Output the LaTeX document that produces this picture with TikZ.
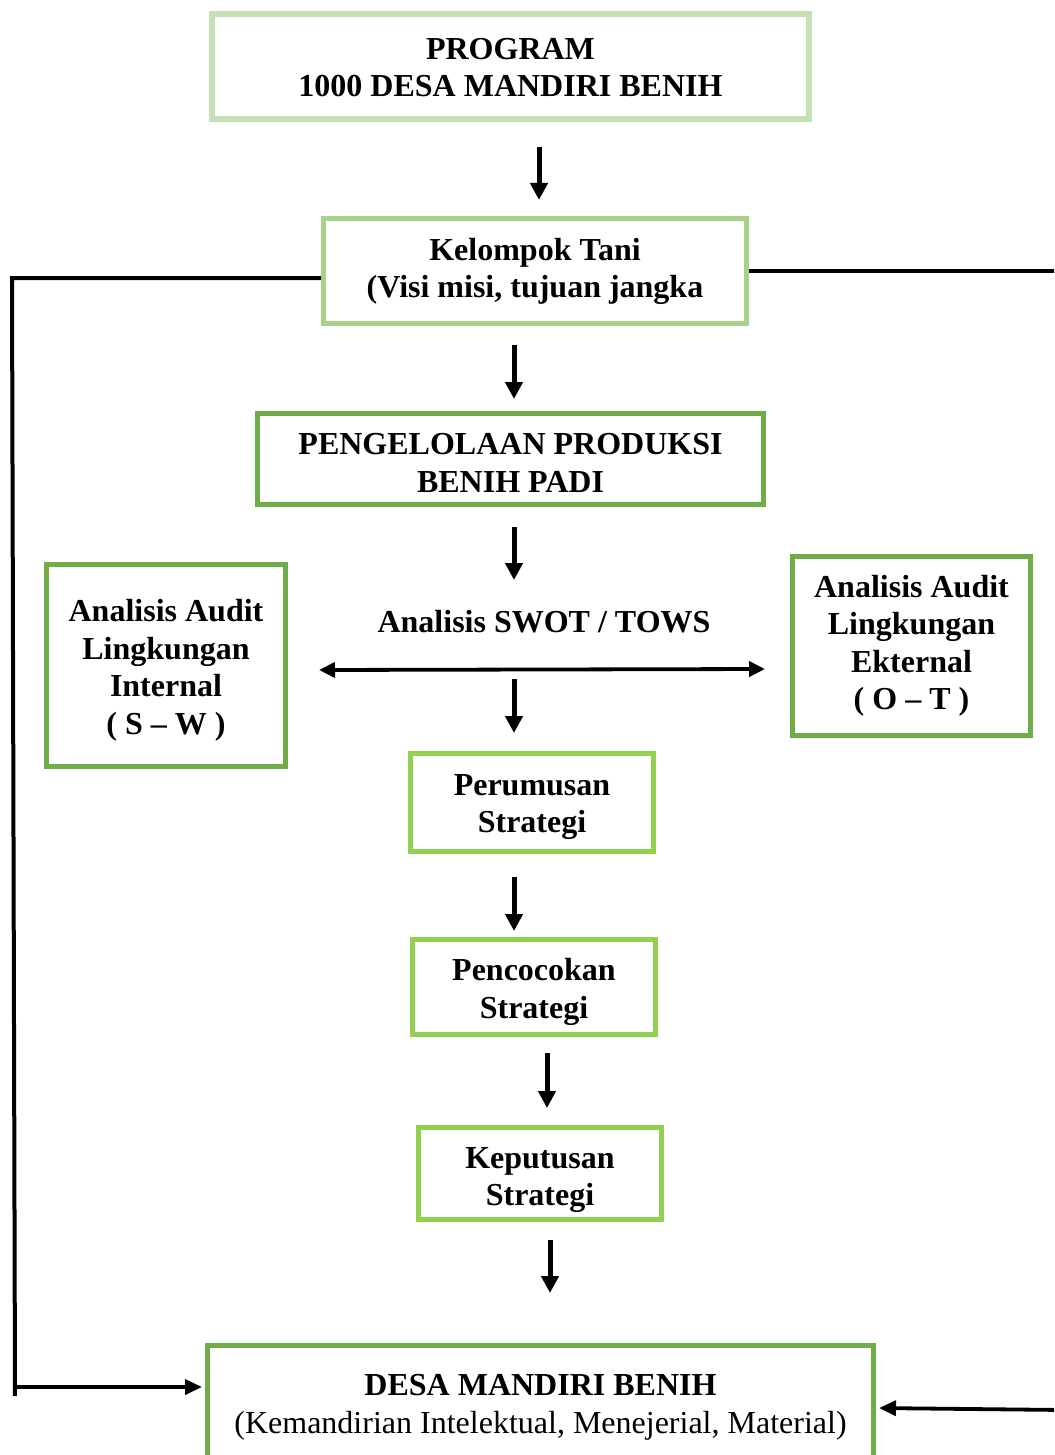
\documentclass[tikz,border=0pt]{standalone}
\usepackage{fontspec}
\setmainfont{Liberation Serif}
\usetikzlibrary{arrows.meta}
\definecolor{gA}{HTML}{C5E0B4}
\definecolor{gB}{HTML}{A9D18E}
\definecolor{gC}{HTML}{70AD47}
\definecolor{gD}{HTML}{92D050}
\newcommand\boxtext[2]{\raisebox{-#1}[\height][\depth]{\begin{tabular}{@{}c@{}}#2\end{tabular}}}
\tikzset{
  box/.style={draw, line width=5pt, fill=white, align=center, inner sep=0pt,
    font=\fontsize{32}{37.5}\selectfont\bfseries},
  arr/.style={line width=5pt, -{Triangle[length=17pt,width=17pt]}},
  conn/.style={line width=4pt},
  connarr/.style={line width=3.8pt, -{Triangle[length=17pt,width=15pt]}},
  dbl/.style={line width=3.8pt, {Triangle[length=16pt,width=15pt]}-{Triangle[length=16pt,width=15pt]}},
}
\begin{document}
\begin{tikzpicture}[x=1pt,y=-1pt]
\useasboundingbox (0,0) rectangle (1054,1455);
\clip (0,0) rectangle (1054,1455);
\fill[white] (0,0) rectangle (1054,1455);

\node[box, draw=gA, line width=6pt, minimum width=597pt, minimum height=105pt] (prog) at (510.5,66.5)
  {\boxtext{4pt}{PROGRAM\\1000 DESA MANDIRI BENIH}};
\node[box, draw=gB, minimum width=423pt, minimum height=105pt] (kt) at (535,271)
  {\boxtext{0.5pt}{Kelompok Tani\\(Visi misi, tujuan jangka}};
\node[box, draw=gC, minimum width=506pt, minimum height=91pt] (peng) at (510.5,459)
  {\boxtext{7pt}{PENGELOLAAN PRODUKSI\\BENIH PADI}};
\node[box, draw=gC, minimum width=239pt, minimum height=202pt] (ain) at (166,665.5)
  {\boxtext{5pt}{Analisis Audit\\Lingkungan\\Internal\\( S -- W )}};
\node[box, draw=gC, minimum width=238pt, minimum height=179pt] (aex) at (911.5,646)
  {\boxtext{0pt}{Analisis Audit\\Lingkungan\\Ekternal\\( O -- T )}};
\node[font=\fontsize{32}{37.5}\selectfont\bfseries, inner sep=0pt] (swot) at (544,622) {Analisis SWOT / TOWS};
\node[box, draw=gD, minimum width=243pt, minimum height=98pt] (rum) at (532,802.5)
  {\boxtext{4pt}{Perumusan\\Strategi}};
\node[box, draw=gD, minimum width=243pt, minimum height=95pt] (coc) at (534,987)
  {\boxtext{5pt}{Pencocokan\\Strategi}};
\node[box, draw=gD, minimum width=243pt, minimum height=92pt] (kep) at (540,1173.5)
  {\boxtext{6pt}{Keputusan\\Strategi}};
\node[box, draw=gC, minimum width=666pt, minimum height=118pt] (desa) at (540.5,1404)
  {\boxtext{3pt}{DESA MANDIRI BENIH\\{\mdseries (Kemandirian Intelektual, Menejerial, Material)}}};

% vertical flow arrows
\coordinate (a1s) at (539,147); \coordinate (a1e) at (539,200);
\coordinate (a2s) at (514,345); \coordinate (a2e) at (514,399);
\coordinate (a3s) at (514,527); \coordinate (a3e) at (514,580);
\coordinate (a4s) at (514,679); \coordinate (a4e) at (514,733);
\coordinate (a5s) at (514,877); \coordinate (a5e) at (514,931);
\coordinate (a6s) at (547,1053); \coordinate (a6e) at (547,1108);
\coordinate (a7s) at (550,1240); \coordinate (a7e) at (550,1293);
\draw[arr] (a1s) -- (a1e);
\draw[arr] (a2s) -- (a2e);
\draw[arr] (a3s) -- (a3e);
\draw[arr] (a4s) -- (a4e);
\draw[arr] (a5s) -- (a5e);
\draw[arr] (a6s) -- (a6e);
\draw[arr] (a7s) -- (a7e);

% double arrow
\coordinate (dl) at (319,670); \coordinate (dr) at (765,669);
\draw[dbl] (dl) -- (dr);

% left feedback line
\coordinate (l1) at (12,278);
\coordinate (l2) at (15,1396);
\coordinate (l3) at (15,1387);
\draw[conn] ([yshift=-7pt]kt.west) -- (l1) -- (l2);
\draw[connarr, shorten >=3pt] (l3) -- ([yshift=17pt]desa.west);

% right feedback line
\coordinate (r1) at (1064,271);
\coordinate (r2) at (1064,1410);
\draw[conn] (kt.east) -- (r1) -- (r2);
\draw[connarr, shorten >=3pt] (r2) -- ([yshift=-4pt]desa.east);
\end{tikzpicture}
\end{document}
